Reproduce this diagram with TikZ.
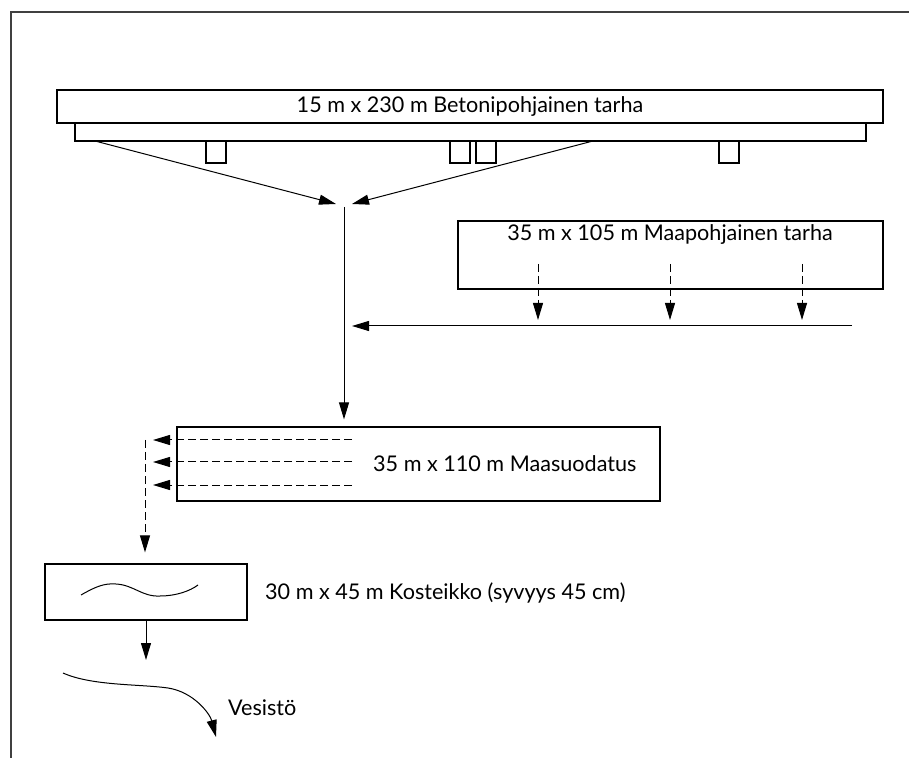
\documentclass[tikz,border=0pt]{standalone}
\usepackage{fontspec}
\setmainfont{Lato}
\usetikzlibrary{arrows.meta}

\begin{document}
\begin{tikzpicture}[x=0.5pt,y=-0.5pt,line width=0.5pt,
  >={Triangle[length=8.5pt,width=5pt]},
  font=\fontsize{10.8}{12}\selectfont,
  box/.style={draw,line width=0.6pt,inner sep=0pt},
  pier/.style={box,minimum width=10pt,minimum height=11pt},
  flow/.style={->},
  seep/.style={->,dash pattern=on 4pt off 2pt}]
\useasboundingbox (0,0) rectangle (909,758);
\draw[line width=0.9pt,black!75] (11,758) -- (11,12) -- (909,12);
% concrete yard
\node[box,minimum width=413pt,minimum height=16.5pt] (beton) at (470,106.5) {15 m x 230 m Betonipohjainen tarha};
\node[box,minimum width=395.5pt,minimum height=9pt] (strip) at (470.5,132) {};
\foreach \x/\n in {216/a,460/b,486/c,729/d}
  \node[pier] (pier\n) at (\x,152) {};
\coordinate (outL) at (95,141);
\coordinate (outR) at (593,141);
\coordinate (inL) at (336,204);
\coordinate (inR) at (352,204);
\coordinate (merge) at (344,207);
\draw[flow] (outL) -- (inL);
\draw[flow] (outR) -- (inR);
% soil yard
\node[box,minimum width=212.5pt,minimum height=34pt] (maapoh) at (670.5,255) {};
\node (maapohText) at (670,235) {35 m x 105 m Maapohjainen tarha};
\foreach \x in {538,670,802}
  \draw[seep] (\x,264) -- (\x,320);
\coordinate (collectR) at (852,326);
\coordinate (collectL) at (352,326);
\draw[flow] (collectR) -- (collectL);
% soil filtration
\node[box,minimum width=241.5pt,minimum height=37pt] (maasuo) at (418.5,464) {};
\node[anchor=west] (maasuoText) at (366,464) {35 m x 110 m Maasuodatus};
\draw[flow,shorten >=3.5pt] (merge) -- (merge |- maasuo.north);
\foreach \y in {440,462,485}
  \draw[seep] (352,\y) -- (153,\y);
% wetland
\node[box,minimum width=101pt,minimum height=28pt] (kost) at (146,592) {};
\node[anchor=west] (kostText) at (258,593) {30 m x 45 m Kosteikko (syvyys 45 cm)};
\coordinate (dropTop) at (145,440);
\draw[seep,shorten >=5.5pt] (dropTop) -- (dropTop |- kost.north);
\draw (81,595) .. controls (95,587) and (104,583) .. (116,584)
  .. controls (134,585) and (142,597) .. (160,596)
  .. controls (176,596) and (190,591) .. (198,585);
\coordinate (outlet) at (146,660);
\draw[flow] (kost.south) -- (outlet);
% receiving water
\draw[flow] (63,673) .. controls (92,686) and (140,684) .. (168,688)
  .. controls (194,692) and (210,714) .. (216,737);
\node[anchor=west] (vesisto) at (221,708) {Vesistö};
\end{tikzpicture}
\end{document}
